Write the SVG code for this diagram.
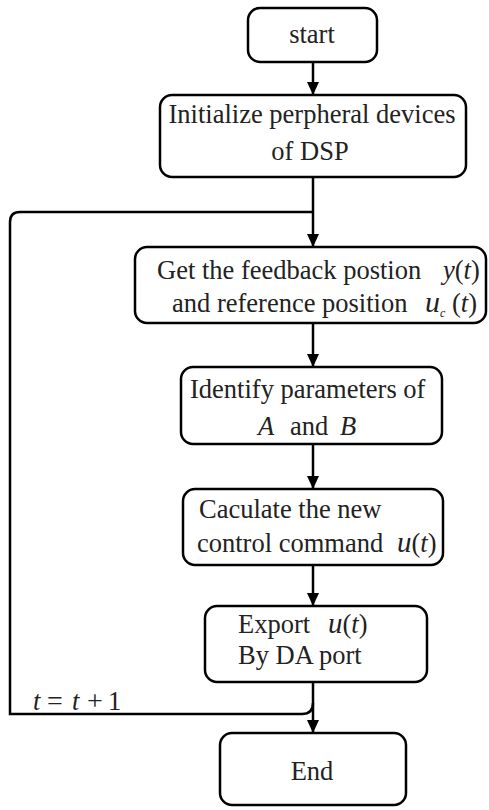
<svg xmlns="http://www.w3.org/2000/svg" width="489" height="810" viewBox="0 0 489 810">
<style>
.box{fill:#fff;stroke:#000;stroke-width:2.5}
.t{font-family:"Liberation Serif","Times New Roman","DejaVu Serif",serif;font-size:26.5px;fill:#222}
.c{text-anchor:middle}
.i{font-style:italic}
.ln{fill:none;stroke:#000;stroke-width:2.5}
</style>
<defs>
<marker id="ah" markerWidth="14" markerHeight="14" refX="13" refY="6.5" orient="auto" markerUnits="userSpaceOnUse">
<path d="M0,0.5 L13,6.5 L0,12.5 Z" fill="#000"/>
</marker>
</defs>
<g id="connectors">
<path class="ln" d="M313,62 V95" marker-end="url(#ah)"/>
<path class="ln" d="M313,177 V247" marker-end="url(#ah)"/>
<path class="ln" d="M313,212 H20 Q10,212 10,222 V714 H302 Q313,714 313,703"/>
<path class="ln" d="M313,323 V367" marker-end="url(#ah)"/>
<path class="ln" d="M313,444 V489" marker-end="url(#ah)"/>
<path class="ln" d="M313,565 V606" marker-end="url(#ah)"/>
<path class="ln" d="M313,682 V733" marker-end="url(#ah)"/>
</g>
<g id="start">
<rect class="box" x="248" y="8" width="129" height="54" rx="12"/>
<text class="t c" x="312" y="43" font-size="27">start</text>
</g>
<g id="init">
<rect class="box" x="160" y="95" width="306" height="82" rx="12"/>
<text class="t c" x="312" y="123">Initialize perpheral devices</text>
<text class="t c" x="310" y="160">of DSP</text>
</g>
<g id="get">
<rect class="box" x="135" y="247" width="351" height="76" rx="12"/>
<text class="t" x="157" y="279" font-size="27.5">Get the feedback postion<tspan class="i" x="443">y</tspan>(<tspan class="i">t</tspan>)</text>
<text class="t" x="172" y="312" font-size="27">and reference position<tspan class="i" x="425" font-size="30">u</tspan><tspan class="i" font-size="12" dy="5">c</tspan><tspan dy="-5" x="452">(</tspan><tspan class="i">t</tspan>)</text>
</g>
<g id="identify">
<rect class="box" x="181" y="367" width="261" height="77" rx="12"/>
<text class="t" x="190" y="398">Identify parameters of</text>
<text class="t" y="435"><tspan class="i" x="258">A</tspan><tspan x="290">and</tspan><tspan class="i" x="340">B</tspan></text>
</g>
<g id="calc">
<rect class="box" x="183" y="489" width="260" height="76" rx="12"/>
<text class="t" x="199" y="518">Caculate the new</text>
<text class="t" x="197" y="552">control command<tspan class="i" x="397" font-size="29">u</tspan>(<tspan class="i">t</tspan>)</text>
</g>
<g id="export">
<rect class="box" x="205" y="606" width="222" height="76" rx="12"/>
<text class="t" x="238" y="633">Export<tspan class="i" x="328" font-size="29">u</tspan>(<tspan class="i">t</tspan>)</text>
<text class="t" x="238" y="664">By DA port</text>
</g>
<text class="t" y="710" font-size="24"><tspan class="i" x="33">t</tspan><tspan x="47" font-size="28">=</tspan><tspan class="i" x="72">t</tspan><tspan x="87" font-size="28">+</tspan><tspan x="108">1</tspan></text>
<g id="end">
<rect class="box" x="220" y="733" width="186" height="72" rx="12"/>
<text class="t c" x="312" y="780">End</text>
</g>
</svg>
